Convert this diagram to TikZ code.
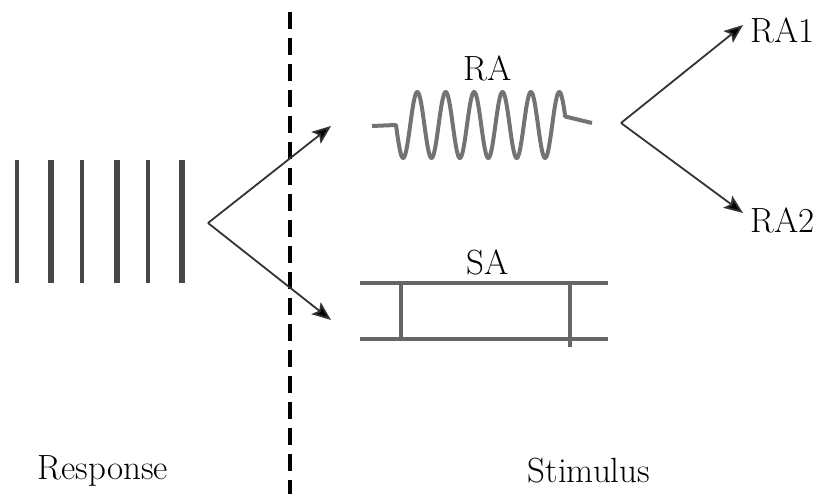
\documentclass[tikz,border=0pt]{standalone}
\usetikzlibrary{arrows.meta}
\begin{document}
\begin{tikzpicture}[x=1pt,y=-1pt,
  lbl/.style={font=\fontsize{35}{40}\selectfont, inner sep=0pt},
  arr/.style={draw=black!80, line width=1.8pt, -{Stealth[length=19pt,width=15pt,inset=4pt,fill=black]}},
  barthin/.style={draw=black!72, line width=3.6pt},
  barthick/.style={draw=black!72, line width=5.5pt},
  wave/.style={draw=black!55, line width=4pt, line join=round},
  ladder/.style={draw=black!60, line width=3.5pt},
  divider/.style={draw=black, line width=3.5pt, dash pattern=on 17pt off 9pt}]
\useasboundingbox (0,0) rectangle (833,494);
% bars
\draw[barthin]  (17,160) -- (17,283);
\draw[barthick] (51,160) -- (51,283);
\draw[barthin]  (82,160) -- (82,283);
\draw[barthick] (117,160) -- (117,283);
\draw[barthin]  (148,160) -- (148,283);
\draw[barthick] (182,160) -- (182,283);
% divider
\coordinate (dtop) at (290,12);
\coordinate (dbot) at (290,494);
\draw[divider] (dtop) -- (dbot);
% left fork
\coordinate (f1) at (208,223);
\coordinate (e1) at (331,126);
\coordinate (e2) at (331,320);
\draw[arr] (f1) -- (e1);
\draw[arr] (f1) -- (e2);
% RA wave
\node[lbl] (ra) at (488,68) {RA};
\draw[wave] (372,126) -- (396,125)
  -- plot[domain=0:5.961, samples=300, smooth] ({396+28.4*\x},{125+33*sin(360*\x)})
  -- (592,123);
% right fork
\coordinate (f2) at (621,123);
\node[lbl, anchor=west] (ra1) at (750,30) {RA1};
\node[lbl, anchor=west] (ra2) at (750,220) {RA2};
\coordinate (e3) at (743,25);
\coordinate (e4) at (743,213);
\draw[arr] (f2) -- (e3);
\draw[arr] (f2) -- (e4);
% SA ladder
\node[lbl] (sa) at (488,262) {SA};
\draw[ladder] (360,283) -- (608,283);
\draw[ladder] (360,339) -- (608,339);
\draw[ladder] (401,283) -- (401,339);
\draw[ladder] (570,283) -- (570,347);
% bottom labels
\node[lbl] (resp) at (103,471) {Response};
\node[lbl] (stim) at (589,471) {Stimulus};
\end{tikzpicture}
\end{document}
